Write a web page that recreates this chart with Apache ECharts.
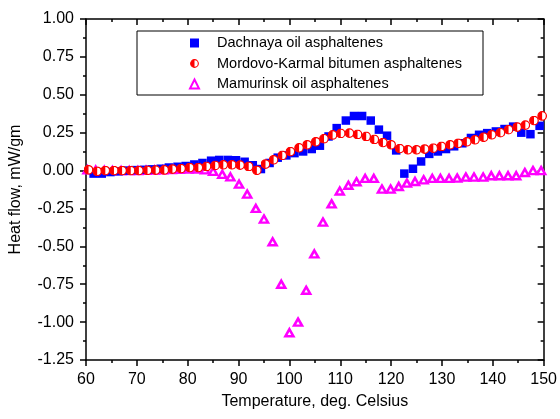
<!DOCTYPE html>
<html>
<head>
<meta charset="utf-8">
<script src="https://cdn.jsdelivr.net/npm/echarts@6/dist/echarts.min.js"></script>
<style>
  html, body { margin: 0; padding: 0; background: #fff; }
  #main { width: 560px; height: 419px; }
</style>
</head>
<body>
<div id="main"></div>
<script>
// Dachnaya oil asphaltenes (squares)
let dachT = [61.5, 63.1, 64.8, 66.4, 68.1, 69.7, 71.4, 73.0, 74.7, 76.3,
  78.0, 79.6, 81.3, 82.9, 84.6, 86.2, 87.9, 89.5, 91.2, 92.8,
  94.4, 96.1, 97.7, 99.4, 101.0, 102.7, 104.4, 106.0, 107.7, 109.3,
  111.1, 112.7, 114.3, 116.0, 117.6, 119.2, 121.0, 122.6, 124.3, 125.9,
  127.5, 129.2, 130.8, 132.4, 134.0, 135.7, 137.3, 138.9, 140.6, 142.3,
  144.0, 145.6, 147.4, 149.2];
let dachFlow = [-0.02, -0.02, -0.01, -0.005, 0, 0.003, 0.005, 0.008, 0.012, 0.02,
  0.025, 0.03, 0.04, 0.05, 0.065, 0.07, 0.07, 0.068, 0.058, 0.035,
  0.01, 0.05, 0.085, 0.1, 0.115, 0.126, 0.142, 0.164, 0.225, 0.28,
  0.33, 0.36, 0.36, 0.33, 0.27, 0.23, 0.133, -0.02, 0.012, 0.06,
  0.11, 0.126, 0.142, 0.16, 0.18, 0.215, 0.236, 0.247, 0.258, 0.274,
  0.29, 0.25, 0.24, 0.295];

// Mordovo-Karmal bitumen asphaltenes (half-filled circles)
let mordT = [60.5, 62.2, 63.8, 65.5, 67.1, 68.8, 70.4, 72.1, 73.7, 75.4,
  77.0, 78.7, 80.4, 82.1, 83.7, 85.4, 87.0, 88.7, 90.3, 92.0,
  93.6, 95.3, 96.9, 98.6, 100.2, 101.9, 103.5, 105.2, 106.8, 108.5,
  110.1, 111.8, 113.4, 115.1, 116.7, 118.4, 120.0, 121.7, 123.3, 125.0,
  126.6, 128.3, 129.9, 131.6, 133.2, 134.9, 136.5, 138.2, 139.8, 141.5,
  143.1, 144.8, 146.4, 148.1, 149.7];
let mordFlow = [0.005, -0.005, 0, 0, 0, 0, 0, 0.002, 0.003, 0.004,
  0.01, 0.013, 0.02, 0.02, 0.027, 0.034, 0.038, 0.038, 0.036, 0.027,
  0.002, 0.043, 0.071, 0.1, 0.125, 0.15, 0.17, 0.19, 0.21, 0.235,
  0.245, 0.247, 0.238, 0.225, 0.205, 0.185, 0.17, 0.145, 0.137, 0.137,
  0.142, 0.148, 0.159, 0.17, 0.18, 0.19, 0.203, 0.22, 0.236, 0.25,
  0.27, 0.287, 0.3, 0.33, 0.36];

// Mamurinsk oil asphaltenes (open triangles)
let mamT = [60.3, 61.9, 63.6, 65.2, 66.9, 68.5, 70.2, 71.8, 73.5, 75.1,
  76.8, 78.4, 80.1, 81.7, 83.4, 85.0, 86.8, 88.4, 90.1, 91.7,
  93.4, 95.0, 96.7, 98.4, 100.0, 101.7, 103.3, 104.9, 106.6, 108.3,
  109.9, 111.6, 113.2, 114.9, 116.6, 118.2, 119.9, 121.5, 123.1, 124.7,
  126.4, 128.1, 129.7, 131.4, 133.0, 134.7, 136.3, 138.1, 139.7, 141.3,
  143.0, 144.6, 146.3, 147.9, 149.5];
let mamFlow = [0.005, 0.003, 0.002, 0, 0, 0, 0, 0.002, 0.003, 0.004,
  0.006, 0.008, 0.01, 0.01, 0.005, -0.005, -0.025, -0.042, -0.09, -0.155,
  -0.25, -0.32, -0.47, -0.75, -1.07, -1.0, -0.79, -0.55, -0.34, -0.22,
  -0.135, -0.097, -0.074, -0.052, -0.052, -0.122, -0.122, -0.105, -0.083, -0.072,
  -0.061, -0.052, -0.052, -0.052, -0.05, -0.043, -0.043, -0.043, -0.034, -0.034,
  -0.034, -0.034, -0.013, 0, 0];

let seriesNames = ["Dachnaya oil asphaltenes", "Mordovo-Karmal bitumen asphaltenes", "Mamurinsk oil asphaltenes"];

let pairs = (xs, ys) => xs.map((x, i) => [x, ys[i]]);

// half filled circle marker
let halfCircle = "image://data:image/svg+xml;charset=utf-8," + encodeURIComponent(
  "<svg xmlns='http://www.w3.org/2000/svg' width='40' height='40' viewBox='0 0 40 40'>" +
  "<circle cx='20' cy='20' r='17' fill='#ffffff' stroke='#ff0000' stroke-width='5'/>" +
  "<path d='M20 3 A17 17 0 0 0 20 37 Z' fill='#ff0000'/></svg>");

let font = "Liberation Sans, Arial, sans-serif";

let myChart = echarts.init(document.getElementById("main"), null, { renderer: "canvas" });

let axisCommon = {
  type: "value",
  axisLine: { show: true, onZero: false, lineStyle: { color: "#000", width: 1.5 } },
  splitLine: { show: false },
};

let option = {
  animation: false,
  backgroundColor: "#fff",
  grid: { left: 85, right: 14, top: 19, bottom: 59, containLabel: false },
  legend: {
    orient: "vertical",
    left: 137,
    top: 31,
    padding: [4, 21, 3, 52],
    itemWidth: 9,
    itemHeight: 9,
    itemGap: 4.5,
    borderColor: "#000",
    borderWidth: 1,
    data: seriesNames,
    textStyle: { fontFamily: font, fontSize: 14.5, lineHeight: 16, color: "#000", padding: [0, 0, 0, 13] },
  },
  xAxis: [
    {
      ...axisCommon,
      position: "bottom",
      min: 60, max: 150, interval: 10,
      axisTick: { show: true, inside: false, length: 6, lineStyle: { color: "#000", width: 1.5 } },
      minorTick: { show: true, splitNumber: 2, length: 3, lineStyle: { color: "#000", width: 1.5 } },
      axisLabel: { fontFamily: font, fontSize: 16, color: "#000", margin: 12 },
      name: "Temperature, deg. Celsius",
      nameLocation: "middle",
      nameGap: 34,
      nameTextStyle: { fontFamily: font, fontSize: 16, color: "#000" },
    },
    {
      ...axisCommon,
      position: "top",
      min: 60, max: 150, interval: 10,
      axisTick: { show: true, inside: true, length: 6, lineStyle: { color: "#000", width: 1.5 } },
      minorTick: { show: true, splitNumber: 2, length: 3, lineStyle: { color: "#000", width: 1.5 } },
      axisLabel: { show: false },
    },
  ],
  yAxis: [
    {
      ...axisCommon,
      position: "left",
      min: -1.25, max: 1, interval: 0.25,
      axisTick: { show: true, inside: false, length: 6, lineStyle: { color: "#000", width: 1.5 } },
      minorTick: { show: true, splitNumber: 2, length: 3, lineStyle: { color: "#000", width: 1.5 } },
      axisLabel: { fontFamily: font, fontSize: 16, color: "#000", margin: 12, formatter: (v) => v.toFixed(2) },
      name: "Heat flow, mW/gm",
      nameLocation: "middle",
      nameGap: 62,
      nameTextStyle: { fontFamily: font, fontSize: 16, color: "#000" },
    },
    {
      ...axisCommon,
      position: "right",
      min: -1.25, max: 1, interval: 0.25,
      axisTick: { show: true, inside: true, length: 6, lineStyle: { color: "#000", width: 1.5 } },
      minorTick: { show: true, splitNumber: 2, length: 3, lineStyle: { color: "#000", width: 1.5 } },
      axisLabel: { show: false },
    },
  ],
  series: [
    {
      name: seriesNames[2],
      type: "scatter",
      symbol: "triangle",
      symbolSize: [8, 7],
      itemStyle: { color: "#ffffff", borderColor: "#ff00ff", borderWidth: 2.5, opacity: 1 },
      data: pairs(mamT, mamFlow),
    },
    {
      name: seriesNames[0],
      type: "scatter",
      symbol: "rect",
      symbolSize: 8.5,
      itemStyle: { color: "#0000ff", opacity: 1 },
      data: pairs(dachT, dachFlow),
    },
    {
      name: seriesNames[1],
      type: "scatter",
      symbol: halfCircle,
      symbolSize: 10,
      itemStyle: { color: "#ff0000", opacity: 1 },
      data: pairs(mordT, mordFlow),
    },
  ],
};

myChart.setOption(option);
</script>
</body>
</html>
